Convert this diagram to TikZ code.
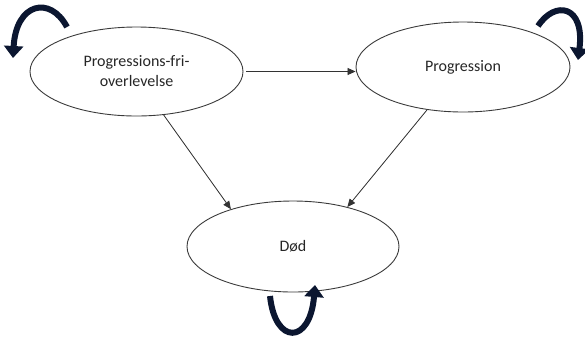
\documentclass[tikz,border=0pt]{standalone}
\usepackage{fontspec}
\setmainfont{Carlito}
\usetikzlibrary{arrows.meta, positioning, shapes.geometric}
\definecolor{statedgray}{HTML}{3A3A3A}
\definecolor{loopnavy}{HTML}{0B1630}

\begin{document}
\begin{tikzpicture}[
    x=1pt, y=-1pt,
    state/.style={
      draw=statedgray, ellipse, inner sep=0pt, line width=0.9pt,
      font=\fontsize{16}{20}\selectfont, align=center, text=black!85
    },
    arr/.style={-{Triangle[length=8pt, width=7pt]}, line width=0.8pt, draw=black!80, fill=black!80},
    selfloop/.style={-{Triangle[length=12pt, width=19pt]}, line width=6pt, draw=loopnavy},
  ]
    \useasboundingbox (0,0) rectangle (585,338);

    % --- States ---
    \node[state, minimum width=213pt, minimum height=89pt] (pfs)  at (136.5,71.5) {Progressions-fri-\\overlevelse};
    \node[state, minimum width=214pt, minimum height=90pt] (prog) at (463,67)     {Progression};
    \node[state, minimum width=212pt, minimum height=91pt] (dod)  at (293,246.5)  {Død};

    % --- Transitions ---
    \draw[arr, shorten <=3pt] (pfs.east) -- (pfs.east -| prog.west);
    \draw[arr] (pfs.-58)   -- (dod.149);
    \draw[arr] (prog.-130) -- (dod.36);

    % --- Self-loops ---
    \coordinate (pfsloopA)  at (67,27);
    \coordinate (pfsloopB)  at (13,58);
    \coordinate (progloopA) at (538,26);
    \coordinate (progloopB) at (578,60);
    \coordinate (dodloopA)  at (270,296);
    \coordinate (dodloopB)  at (315,285);
    \draw[selfloop] (pfsloopA)  .. controls (50,-5) and (16,3)    .. (pfsloopB);
    \draw[selfloop] (progloopA) .. controls (555,0) and (585,5)   .. (progloopB);
    \draw[selfloop] (dodloopA)  .. controls (275,345) and (310,345) .. (dodloopB);
  \end{tikzpicture}
\end{document}
